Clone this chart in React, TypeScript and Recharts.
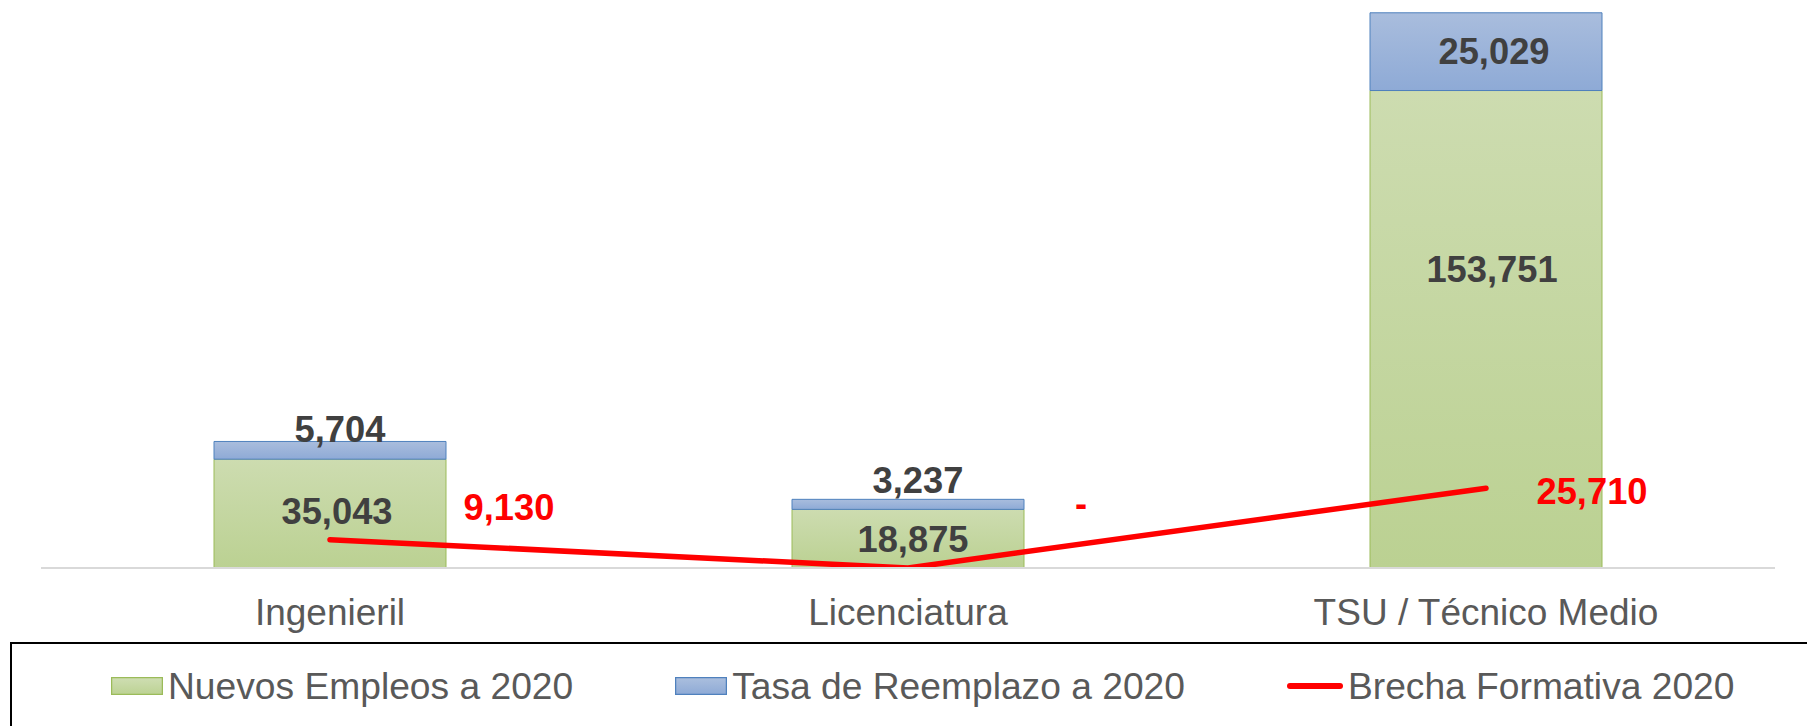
import React from 'react';
import { ComposedChart, Bar, Line, XAxis, YAxis, LabelList } from 'recharts';

const categories = ['Ingenieril', 'Licenciatura', 'TSU / Técnico Medio'];
const nuevosEmpleos = [35043, 18875, 153751];
const tasaReemplazo = [5704, 3237, 25029];
const brechaFormativa = [9130, 0, 25710];
const seriesNames = ['Nuevos Empleos a 2020', 'Tasa de Reemplazo a 2020', 'Brecha Formativa 2020'];

// label placement tweaks (as in the reference, labels were hand-placed)
const nuevosLabelShift = [{ dx: 7, dy: -2 }, { dx: 5, dy: 1 }, { dx: 6, dy: -60 }];
const tasaLabelShift = [{ dx: 10, dy: -21 }, { dx: 10, dy: -24 }, { dx: 8, dy: 0 }];
const brechaLabelShift = [{ dx: 179, dy: -32 }, { dx: 173, dy: -65 }, { dx: 106, dy: 3 }];

const data = categories.map((c, i) => ({
  name: c,
  nuevos: nuevosEmpleos[i],
  tasa: tasaReemplazo[i],
  brecha: brechaFormativa[i],
}));

const FONT = '"Liberation Sans", Arial, sans-serif';
const fmt = (v: any) => (Number(v) === 0 ? '-' : Number(v).toLocaleString('en-US'));

const makeBarLabel = (shifts: { dx: number; dy: number }[]) => (props: any) => {
  const vb = props.viewBox || {};
  const x = Number(props.x ?? vb.x);
  const y = Number(props.y ?? vb.y);
  const w = Number(props.width ?? vb.width);
  const h = Number(props.height ?? vb.height);
  const s = shifts[props.index] || { dx: 0, dy: 0 };
  return (
    <text
      x={x + w / 2 + s.dx}
      y={y + h / 2 + s.dy}
      textAnchor="middle"
      dominantBaseline="central"
      fontFamily={FONT}
      fontWeight="bold"
      fontSize={36.3}
      fill="#404040"
    >
      {fmt(props.value)}
    </text>
  );
};

const LineLabel = (props: any) => {
  const vb = props.viewBox || {};
  const x = Number(props.x ?? vb.x);
  const y = Number(props.y ?? vb.y);
  const s = brechaLabelShift[props.index] || { dx: 0, dy: 0 };
  return (
    <text
      x={x + s.dx}
      y={y + s.dy}
      textAnchor="middle"
      dominantBaseline="central"
      fontFamily={FONT}
      fontWeight="bold"
      fontSize={36.3}
      fill="#ff0000"
    >
      {fmt(props.value)}
    </text>
  );
};

const CategoryTick = (props: any) => {
  const { x, y, payload } = props;
  return (
    <text x={x} y={y + 57} textAnchor="middle" fontFamily={FONT} fontSize={37} fill="#595959">
      {payload.value}
    </text>
  );
};

const GreenIcon = () => (
  <svg width={52} height={18} style={{ display: 'block' }}>
    <defs>
      <linearGradient id="lgGreen" x1="0" y1="0" x2="0" y2="1">
        <stop offset="0%" stopColor="#cfdeb3" />
        <stop offset="100%" stopColor="#bcd293" />
      </linearGradient>
    </defs>
    <rect x={0.5} y={0.5} width={51} height={17} fill="url(#lgGreen)" stroke="#9bbb59" strokeWidth={1.5} />
  </svg>
);
const BlueIcon = () => (
  <svg width={52} height={18} style={{ display: 'block' }}>
    <defs>
      <linearGradient id="lgBlue" x1="0" y1="0" x2="0" y2="1">
        <stop offset="0%" stopColor="#abbfde" />
        <stop offset="100%" stopColor="#8eaad6" />
      </linearGradient>
    </defs>
    <rect x={0.5} y={0.5} width={51} height={17} fill="url(#lgBlue)" stroke="#4f81bd" strokeWidth={1.5} />
  </svg>
);
const RedIcon = () => (
  <svg width={56} height={18} style={{ display: 'block' }}>
    <line x1={3} y1={9} x2={53} y2={9} stroke="#ff0000" strokeWidth={6} strokeLinecap="round" />
  </svg>
);

const legendIcons = [GreenIcon, BlueIcon, RedIcon];

export default function App() {
  return (
    <div style={{ position: 'relative', width: 1807, height: 726, overflow: 'hidden', background: '#fff', fontFamily: FONT }}>
      <style>{`body{margin:0}`}</style>
      <ComposedChart
        width={1807}
        height={726}
        data={data}
        margin={{ top: 9, right: 32, bottom: 98, left: 41 }}
      >
        <defs>
          <linearGradient id="gGreen" x1="0" y1="0" x2="0" y2="1">
            <stop offset="0%" stopColor="#cddcb0" />
            <stop offset="100%" stopColor="#bbd192" />
          </linearGradient>
          <linearGradient id="gBlue" x1="0" y1="0" x2="0" y2="1">
            <stop offset="0%" stopColor="#a9bddd" />
            <stop offset="100%" stopColor="#8eaad6" />
          </linearGradient>
        </defs>
        <XAxis
          dataKey="name"
          height={60}
          axisLine={{ stroke: '#d9d9d9', strokeWidth: 2 }}
          tickLine={false}
          tickSize={0}
          tickMargin={0}
          tick={<CategoryTick />}
          interval={0}
        />
        <YAxis hide domain={[0, 180000]} allowDataOverflow />
        <Bar dataKey="nuevos" name={seriesNames[0]} stackId="a" barSize={232} fill="url(#gGreen)" stroke="#9bbb59" strokeWidth={1} isAnimationActive={false}>
          <LabelList dataKey="nuevos" content={makeBarLabel(nuevosLabelShift)} />
        </Bar>
        <Bar dataKey="tasa" name={seriesNames[1]} stackId="a" barSize={232} fill="url(#gBlue)" stroke="#4f81bd" strokeWidth={1} isAnimationActive={false}>
          <LabelList dataKey="tasa" content={makeBarLabel(tasaLabelShift)} />
        </Bar>
        <Line
          dataKey="brecha"
          name={seriesNames[2]}
          type="linear"
          stroke="#ff0000"
          strokeWidth={5.5}
          strokeLinecap="round"
          strokeLinejoin="round"
          dot={false}
          activeDot={false}
          isAnimationActive={false}
        >
          <LabelList dataKey="brecha" content={LineLabel} />
        </Line>
      </ComposedChart>
      <div
        style={{
          position: 'absolute',
          left: 10,
          top: 642,
          width: 1830,
          height: 120,
          border: '2px solid #000',
          boxSizing: 'border-box',
        }}
      />
      <div
        style={{
          position: 'absolute',
          left: 111,
          top: 686,
          transform: 'translateY(-50%)',
          display: 'flex',
          alignItems: 'center',
          gap: 102,
          whiteSpace: 'nowrap',
        }}
      >
        {seriesNames.map((n, i) => {
          const Icon = legendIcons[i];
          return (
            <div key={n} style={{ display: 'flex', alignItems: 'center', gap: 5 }}>
              <Icon />
              <span style={{ fontSize: 37.2, color: '#595959', lineHeight: '44px' }}>{n}</span>
            </div>
          );
        })}
      </div>
    </div>
  );
}
